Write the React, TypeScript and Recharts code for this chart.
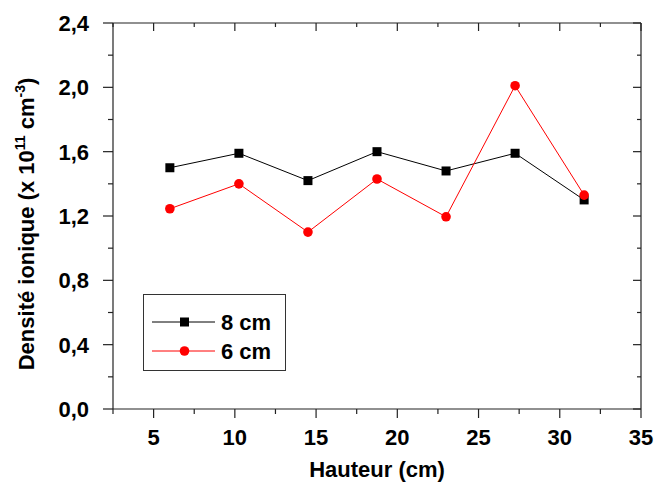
import React from 'react';
import { LineChart, Line, XAxis, YAxis, Legend } from 'recharts';

// heights (cm) and ion densities (x 10^11 cm^-3)
const hauteur = [6, 10.25, 14.5, 18.75, 23, 27.25, 31.5];
const densite8cm = [1.5, 1.59, 1.42, 1.6, 1.48, 1.59, 1.3];
const densite6cm = [1.245, 1.4, 1.1, 1.43, 1.195, 2.01, 1.33];
const seriesNames = ['8 cm', '6 cm'];

const xTicks = [2.5, 5, 7.5, 10, 12.5, 15, 17.5, 20, 22.5, 25, 27.5, 30, 32.5, 35];
const yTicks = [0, 0.2, 0.4, 0.6, 0.8, 1.0, 1.2, 1.4, 1.6, 1.8, 2.0, 2.2, 2.4];

const data = hauteur.map((h, i) => ({ h, d8: densite8cm[i], d6: densite6cm[i] }));

const FONT = '"Liberation Sans", Arial, sans-serif';
const AXIS = '#222';

const isMajorX = (v: number) => v % 5 === 0;
const isMajorY = (v: number) => Math.round(v * 10) % 4 === 0;
const fmtY = (v: number) => v.toFixed(1).replace('.', ',');

const BottomTick = ({ x, y, payload }: any) => {
  const major = isMajorX(payload.value);
  return (
    <g>
      <line x1={x} x2={x} y1={y} y2={y + (major ? 9 : 5)} stroke={AXIS} strokeWidth={1.2} />
      {major && (
        <text x={x} y={y + 36} textAnchor="middle" fontFamily={FONT} fontWeight="bold" fontSize={22} fill="#000">
          {payload.value}
        </text>
      )}
    </g>
  );
};

const TopTick = ({ x, y, payload }: any) => {
  const major = isMajorX(payload.value);
  return <line x1={x} x2={x} y1={y} y2={y + (major ? 8 : 4)} stroke={AXIS} strokeWidth={1.2} />;
};

const LeftTick = ({ x, y, payload }: any) => {
  const major = isMajorY(payload.value);
  return (
    <g>
      <line x1={x} x2={x - (major ? 10 : 5)} y1={y} y2={y} stroke={AXIS} strokeWidth={1.2} />
      {major && (
        <text x={x - 24} y={y + 8} textAnchor="end" fontFamily={FONT} fontWeight="bold" fontSize={22} fill="#000">
          {fmtY(payload.value)}
        </text>
      )}
    </g>
  );
};

const RightTick = ({ x, y, payload }: any) => {
  const major = isMajorY(payload.value);
  return <line x1={x} x2={x - (major ? 8 : 4)} y1={y} y2={y} stroke={AXIS} strokeWidth={1.2} />;
};

const XTitle = () => (
  <text x={377} y={477} textAnchor="middle" fontFamily={FONT} fontWeight="bold" fontSize={22} fill="#000">
    Hauteur (cm)
  </text>
);

const YTitle = () => (
  <text
    transform="translate(34,224) rotate(-90)"
    textAnchor="middle"
    fontFamily={FONT}
    fontWeight="bold"
    fontSize={22}
    fill="#000"
  >
    Densité ionique (x 10
    <tspan dy={-9} fontSize={14}>11</tspan>
    <tspan dy={9}> cm</tspan>
    <tspan dy={-9} fontSize={14}>-3</tspan>
    <tspan dy={9}>)</tspan>
  </text>
);

const SquareDot = ({ cx, cy }: any) => <rect x={cx - 4.5} y={cy - 4.5} width={9} height={9} fill="#000" />;
const RoundDot = ({ cx, cy }: any) => <circle cx={cx} cy={cy} r={4.8} fill="#ff0000" />;

const LegendBox = () => (
  <div
    style={{
      width: 143,
      height: 77,
      border: '1.5px solid #333',
      boxSizing: 'border-box',
      background: '#fff',
    }}
  >
    <svg width={140} height={74} style={{ display: 'block' }}>
      {seriesNames.map((name, i) => {
        const y = i === 0 ? 27 : 56;
        const color = i === 0 ? '#000' : '#ff0000';
        return (
          <g key={name}>
            <line x1={8} x2={71} y1={y} y2={y} stroke={color} strokeWidth={1} />
            {i === 0 ? (
              <rect x={36} y={y - 4.5} width={9} height={9} fill="#000" />
            ) : (
              <circle cx={40.5} cy={y} r={4.8} fill="#ff0000" />
            )}
            <text x={77} y={y + 8} fontFamily={FONT} fontWeight="bold" fontSize={22} fill="#000">
              {name}
            </text>
          </g>
        );
      })}
    </svg>
  </div>
);

export default function App() {
  return (
    <div style={{ position: 'absolute', left: 0, top: 0, background: '#fff' }}>
      <LineChart width={656} height={488} data={data} margin={{ top: 22, right: 14, bottom: 0, left: 0 }}>
        <XAxis
          dataKey="h"
          type="number"
          domain={[2.5, 35]}
          ticks={xTicks}
          interval={0}
          tickSize={0}
          tickMargin={0}
          height={79}
          tick={<BottomTick />}
          axisLine={{ stroke: AXIS, strokeWidth: 1.2 }}
          label={<XTitle />}
        />
        <XAxis
          xAxisId="top"
          dataKey="h"
          orientation="top"
          type="number"
          domain={[2.5, 35]}
          ticks={xTicks}
          interval={0}
          tickSize={0}
          tickMargin={0}
          height={1}
          tick={<TopTick />}
          axisLine={{ stroke: AXIS, strokeWidth: 1.2 }}
        />
        <YAxis
          type="number"
          domain={[0, 2.4]}
          ticks={yTicks}
          interval={0}
          tickSize={0}
          tickMargin={0}
          width={113}
          tick={<LeftTick />}
          axisLine={{ stroke: AXIS, strokeWidth: 1.2 }}
          label={<YTitle />}
        />
        <YAxis
          yAxisId="right"
          orientation="right"
          type="number"
          domain={[0, 2.4]}
          ticks={yTicks}
          interval={0}
          tickSize={0}
          tickMargin={0}
          width={1}
          tick={<RightTick />}
          axisLine={{ stroke: AXIS, strokeWidth: 1.2 }}
        />
        <Legend
          layout="vertical"
          align="center"
          verticalAlign="middle"
          content={<LegendBox />}
          wrapperStyle={{ left: 143, top: 294, width: 143, height: 77 }}
        />
        {/* invisible series so the frame axes (top/right) get drawn */}
        <Line
          xAxisId="top"
          yAxisId="right"
          dataKey="d8"
          stroke="none"
          dot={false}
          activeDot={false}
          legendType="none"
          isAnimationActive={false}
        />
        <Line
          dataKey="d8"
          name={seriesNames[0]}
          stroke="#000"
          strokeWidth={1}
          dot={<SquareDot />}
          activeDot={false}
          isAnimationActive={false}
        />
        <Line
          dataKey="d6"
          name={seriesNames[1]}
          stroke="#ff0000"
          strokeWidth={1}
          dot={<RoundDot />}
          activeDot={false}
          isAnimationActive={false}
        />
      </LineChart>
    </div>
  );
}
